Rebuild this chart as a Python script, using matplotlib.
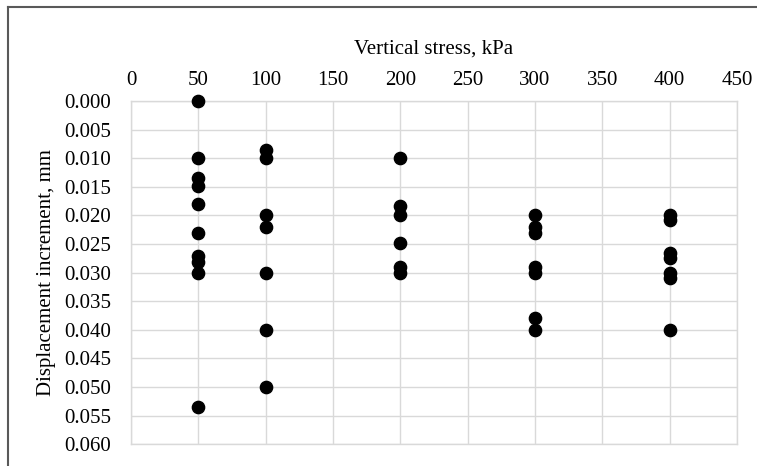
"""
Displacement increment vs vertical stress scatter
"""
import matplotlib
matplotlib.use('Agg')
import matplotlib.pyplot as plt
from matplotlib.lines import Line2D
import numpy as np

# vertical stress (kPa) and displacement increment (mm) per reading
stress_50 = [50] * 10
disp_50 = [0.000, 0.010, 0.0135, 0.0148, 0.018, 0.0231, 0.0271, 0.0282, 0.030, 0.0534]

stress_100 = [100] * 7
disp_100 = [0.0085, 0.010, 0.020, 0.022, 0.030, 0.040, 0.050]

stress_200 = [200] * 6
disp_200 = [0.010, 0.0184, 0.020, 0.0248, 0.029, 0.030]

stress_300 = [300] * 7
disp_300 = [0.020, 0.022, 0.023, 0.029, 0.030, 0.038, 0.040]

stress_400 = [400] * 7
disp_400 = [0.020, 0.0208, 0.0265, 0.0275, 0.030, 0.031, 0.040]

x_ticks = np.arange(0, 451, 50)
y_ticks = np.arange(0, 0.0601, 0.005)

plt.rcParams['font.family'] = ['Liberation Serif', 'DejaVu Serif']

fig = plt.figure(figsize=(7.57, 4.66), dpi=100)
ax = fig.add_axes([131 / 757, 1 - 444.3 / 466, (737 - 131) / 757, (444.3 - 101) / 466])

x = stress_50 + stress_100 + stress_200 + stress_300 + stress_400
y = disp_50 + disp_100 + disp_200 + disp_300 + disp_400
ax.scatter(x, y, s=78, color='black', zorder=3, clip_on=False)

ax.set_xlim(0, 450)
ax.set_ylim(0.060, 0.0)
ax.set_xticks(x_ticks)
ax.set_yticks(y_ticks)
ax.set_yticklabels([f'{v:.3f}' for v in y_ticks])
ax.xaxis.tick_top()
ax.xaxis.set_label_position('top')
ax.tick_params(length=0, labelsize=15, colors='black')
ax.tick_params(axis='x', pad=8)
ax.tick_params(axis='y', pad=14.5)
ax.set_xlabel('Vertical stress, kPa', fontsize=15, labelpad=12.5)
ax.set_ylabel('Displacement increment, mm', fontsize=15, labelpad=6)

ax.grid(True, color='#d9d9d9', linewidth=1.0)
ax.set_axisbelow(True)
for sp in ax.spines.values():
    sp.set_color('#d9d9d9')
    sp.set_linewidth(1.0)

# chart frame (only left and top edges fall inside the image)
fig.add_artist(Line2D([8 / 757, 8 / 757], [0, 1 - 7 / 466], color='#595959', linewidth=1.5))
fig.add_artist(Line2D([8 / 757, 1], [1 - 7 / 466, 1 - 7 / 466], color='#595959', linewidth=1.5))

plt.savefig('out.png', dpi=100)
plt.close()
